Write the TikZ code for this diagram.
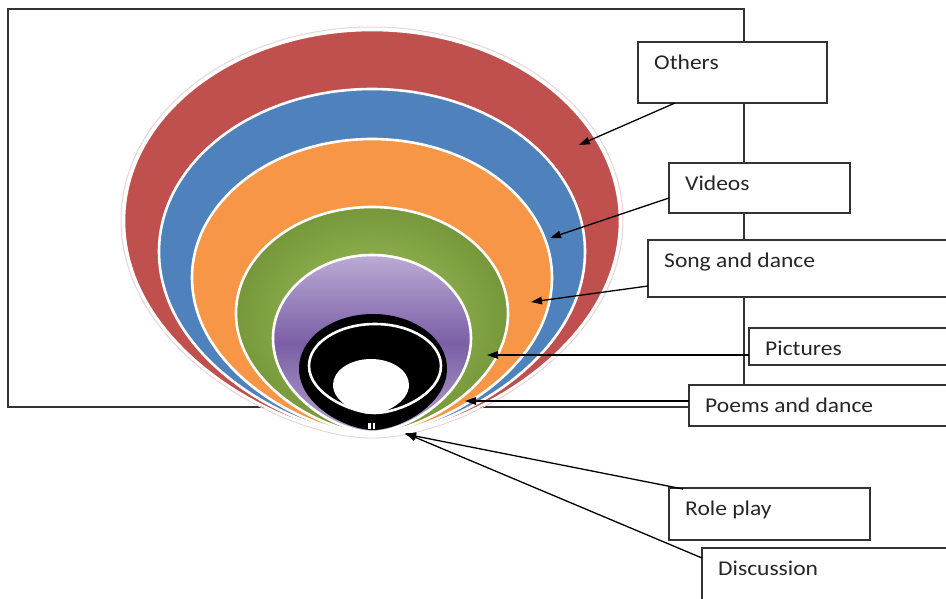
\documentclass[tikz,border=0pt]{standalone}
\usepackage{fontspec}
\setmainfont{Carlito}[FakeStretch=1.12]
\usetikzlibrary{arrows.meta,calc}
\definecolor{cred}{HTML}{C0504D}
\definecolor{cblue}{HTML}{4F81BD}
\definecolor{corange}{HTML}{F79646}
\definecolor{cgreenin}{HTML}{A2C463}
\definecolor{cgreenout}{HTML}{76983A}
\definecolor{cpurtop}{HTML}{BBABD5}
\definecolor{cpurmid}{HTML}{7A5FA6}
\definecolor{cpurbot}{HTML}{B2A1CE}
\definecolor{boxc}{HTML}{333333}
\definecolor{glow}{HTML}{EAD4D4}
\newcommand{\eggshape}[5]{%
  \pgfmathsetmacro{\eggYm}{#3+0.47*(#4-#3)}%
  \pgfmathsetmacro{\eggHa}{0.5523*(\eggYm-#3)}%
  \pgfmathsetmacro{\eggWa}{0.5523*#5}%
  \pgfmathsetmacro{\eggHb}{0.6*(#4-\eggYm)}%
  \pgfmathsetmacro{\eggWb}{0.35*#5}%
  \path[#1] (#2,#4) .. controls ({#2-\eggWb},#4) and ({#2-#5},{\eggYm+\eggHb}) .. ({#2-#5},\eggYm)
    .. controls ({#2-#5},{\eggYm-\eggHa}) and ({#2-\eggWa},#3) .. (#2,#3)
    .. controls ({#2+\eggWa},#3) and ({#2+#5},{\eggYm-\eggHa}) .. ({#2+#5},\eggYm)
    .. controls ({#2+#5},{\eggYm+\eggHb}) and ({#2+\eggWb},#4) .. cycle;%
}
\tikzset{
  box/.style={draw=boxc, line width=1.3pt, fill=white, anchor=north west, inner sep=0pt, outer sep=0pt},
  lbl/.style={anchor=base west, xshift=16pt, yshift=-27pt, inner sep=0pt, text=black!85,
              font=\fontsize{21}{25}\selectfont},
  conn/.style={-{Triangle[length=11pt,width=7.5pt]}, line width=1.3pt, black},
  ring/.style={draw=white, line width=2.6pt}
}
\begin{document}
\begin{tikzpicture}[x=1pt,y=-1pt]
\useasboundingbox (0,0) rectangle (946,598);
% frame
\draw[boxc, line width=1.3pt] (8,9) rectangle (744,407);
% rings
\eggshape{draw=glow, line width=1pt}{372}{27}{438}{251}
\eggshape{fill=cred, ring}{372}{30}{436}{248}
\eggshape{fill=cblue, ring}{372}{89}{435}{213}
\eggshape{fill=corange, ring}{372}{139}{434}{180}
\eggshape{inner color=cgreenin, outer color=cgreenout, ring}{372}{207}{433}{136}
\eggshape{top color=cpurtop, bottom color=cpurbot, middle color=cpurmid, ring}{372}{255}{432}{99}
\eggshape{fill=black}{373}{314}{430}{74}
\eggshape{fill=black, ring}{375}{324}{413}{66}
\eggshape{fill=white}{371}{359}{414}{38}
\fill[white] (368.3,423) rectangle (371,428.5);
\fill[white] (372.8,423) rectangle (375.4,428.5);
% boxes
\node[box, minimum width=189pt, minimum height=61pt, label={[lbl]north west:Others}] (oth) at (638,42) {};
\node[box, minimum width=181pt, minimum height=50pt, label={[lbl]north west:Videos}] (vid) at (669,163) {};
\node[box, minimum width=310pt, minimum height=57pt, label={[lbl]north west:Song and dance}] (song) at (648,240) {};
\node[box, minimum width=210pt, minimum height=37pt, label={[lbl]north west:Pictures}] (pict) at (749,328) {};
\node[box, minimum width=270pt, minimum height=41pt, label={[lbl]north west:Poems and dance}] (poem) at (689,385) {};
\node[box, minimum width=201pt, minimum height=52pt, label={[lbl]north west:Role play}] (role) at (669,488) {};
\node[box, minimum width=260pt, minimum height=60pt, label={[lbl]north west:Discussion}] (disc) at (702,548) {};
% arrow tips
\coordinate (tOth) at (579,145);
\coordinate (tVid) at (550,238);
\coordinate (tSong) at (531,302);
\coordinate (tPic) at (487,355);
\coordinate (tPoem) at (465,401);
\coordinate (tRole) at (405,434);
\coordinate (tDisc) at (405,433);
% connectors
\draw[conn] ($(oth.south west)+(37,0)$) -- (tOth);
\draw[conn] ($(vid.north west)+(0,35)$) -- (tVid);
\draw[conn] ($(song.north west)+(0,46)$) -- (tSong);
\draw[conn] ($(pict.north west)+(0,27)$) -- (tPic);
\draw[conn] ($(poem.north west)+(0,16)$) -- (tPoem);
\draw[conn] ($(role.north west)+(14,1)$) -- (tRole);
\draw[conn] ($(disc.north west)+(0,10)$) -- (tDisc);
\end{tikzpicture}
\end{document}
